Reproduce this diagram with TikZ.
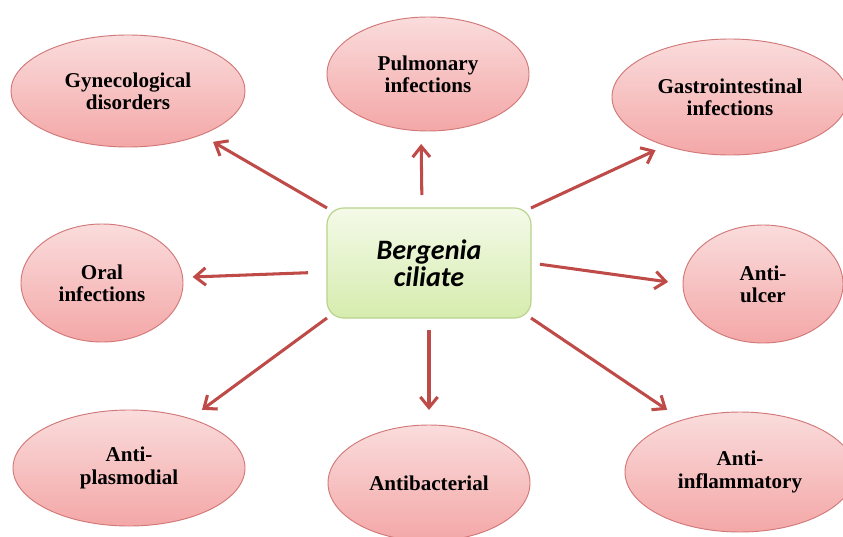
\documentclass[tikz,border=0pt]{standalone}
\usepackage{fontspec}
\setmainfont{Liberation Serif}
\newfontfamily\boxfont{Carlito}
\usetikzlibrary{shapes.geometric,arrows.meta}
\definecolor{arrowred}{HTML}{BE4B48}
\definecolor{elltop}{HTML}{FADCDC}
\definecolor{ellbot}{HTML}{F4A7A7}
\definecolor{ellline}{HTML}{D27878}
\definecolor{boxtop}{HTML}{F4FAE8}
\definecolor{boxbot}{HTML}{D6ECAE}
\definecolor{boxline}{HTML}{B9D38C}
\begin{document}
\begin{tikzpicture}[x=0.03cm,y=-0.03cm,
  ell/.style={ellipse, draw=ellline, line width=0.8pt, top color=elltop, bottom color=ellbot,
    inner sep=0pt, outer sep=0pt, align=center, font=\fontsize{18}{19}\selectfont\bfseries},
  centerbox/.style={rectangle, rounded corners=0.5cm, draw=boxline, line width=1pt,
    top color=boxtop, bottom color=boxbot, inner sep=0pt, outer sep=0pt,
    minimum width=6.12cm, minimum height=3.3cm, align=center,
    font=\boxfont\fontsize{24}{23}\selectfont\bfseries\itshape},
  arr/.style={draw=arrowred, line width=2.6pt, -{Straight Barb[length=0.32cm,width=0.52cm]}}]
\fill[white] (0,0) rectangle (843,537);
\useasboundingbox (0,0) rectangle (843,537);

\node[centerbox] (box) at (429,263) {Bergenia\\ciliate};

\node[ell, minimum width=7.02cm, minimum height=3.36cm] (gyn) at (128,91) {Gynecological\\disorders};
\node[ell, minimum width=6.06cm, minimum height=3.42cm] (pul) at (428,74) {Pulmonary\\infections};
\node[ell, minimum width=7.08cm, minimum height=3.48cm] (gas) at (730,97) {Gastrointestinal\\infections};
\node[ell, minimum width=4.86cm, minimum height=3.54cm] (oral) at (102,283) {Oral\\infections};
\node[ell, minimum width=4.8cm, minimum height=3.54cm] (ulc) at (763,284) {Anti-\\ulcer};
\node[ell, minimum width=6.96cm, minimum height=3.48cm] (pla) at (129,468) {Anti-\\plasmodial};
\node[ell, minimum width=6.06cm, minimum height=3.48cm] (bac) at (429,483) {Antibacterial};
\node[ell, minimum width=6.9cm, minimum height=3.6cm] (inf) at (740,472) {Anti-\\inflammatory};

\draw[arr, shorten >=0.42cm] (box.north west) -- (gyn.329);
\draw[arr, shorten <=0.39cm, shorten >=0.39cm] ([xshift=-0.21cm]box.north) -- ([xshift=-0.21cm]pul.south);
\draw[arr, shorten >=0.33cm] (box.north east) -- (gas.217);
\draw[arr, shorten <=0.57cm, shorten >=0.3cm] ([yshift=-0.27cm]box.west) -- (oral.4);
\draw[arr, shorten <=0.27cm, shorten >=0.45cm] (box.east) -- (ulc.west);
\draw[arr, shorten >=0.45cm] (box.south west) -- (pla.39);
\draw[arr, shorten <=0.36cm, shorten >=0.45cm] (box.south) -- (bac.north);
\draw[arr, shorten >=0.55cm] (box.south east) -- (inf.138);
\end{tikzpicture}
\end{document}
